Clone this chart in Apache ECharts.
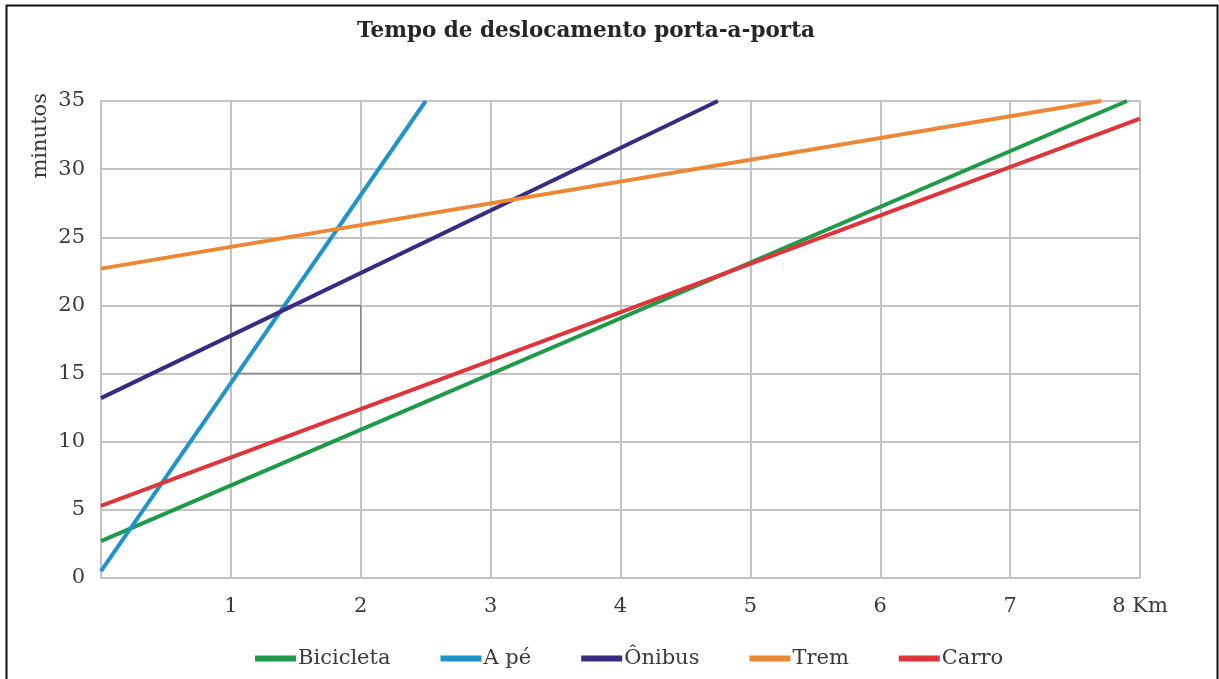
<!DOCTYPE html>
<html>
<head>
    <meta charset="utf-8">
    <title>Tempo de deslocamento porta-a-porta</title>
    <script src="https://cdn.jsdelivr.net/npm/echarts@6/dist/echarts.min.js"></script>
    <style>
        body { margin: 0; background: #fff; }
        #main { width: 1219px; height: 679px; }
    </style>
</head>
<body>
    <div id="main"></div>
    <script type="text/javascript">
        // endpoints of each straight line, [km, minutos]
        var bicicleta = [[0, 2.7], [7.9, 35]];
        var aPe = [[0, 0.5], [2.5, 35]];
        var onibus = [[0, 13.2], [4.75, 35]];
        var trem = [[0, 22.7], [7.7, 35]];
        var carro = [[0, 5.3], [8, 33.7]];

        var names = ['Bicicleta', 'A pé', 'Ônibus', 'Trem', 'Carro'];
        var colors = ['#1e9a48', '#2094c9', '#3a2a82', '#ee8733', '#e0343b'];
        var lines = [bicicleta, aPe, onibus, trem, carro];

        // the small highlighted box in the grid
        var caixa = [[1, 15], [2, 20]];

        var font = 'DejaVu Serif';
        var myChart = echarts.init(document.getElementById('main'));

        var series = lines.map(function (d, i) {
            return {
                name: names[i],
                type: 'line',
                data: d,
                symbol: 'none',
                lineStyle: { width: 4, color: colors[i] },
                itemStyle: { color: colors[i] },
                z: 3
            };
        });
        series[0].markArea = {
            silent: true,
            itemStyle: { color: 'rgba(0,0,0,0)', borderColor: '#8a8a8a', borderWidth: 1.5 },
            data: [[{ coord: caixa[0] }, { coord: caixa[1] }]]
        };

        var option = {
            animation: false,
            textStyle: { fontFamily: font },
            title: {
                text: 'Tempo de deslocamento porta-a-porta',
                left: 581,
                top: 15,
                textAlign: 'center',
                textStyle: { fontFamily: font, fontSize: 21.5, fontWeight: 'bold', color: '#262626' }
            },
            grid: { left: 101, right: 79, top: 101, bottom: 101 },
            legend: {
                bottom: 10,
                left: 255,
                padding: 0,
                icon: 'rect',
                itemWidth: 41,
                itemHeight: 6,
                itemGap: 50,
                textStyle: { fontFamily: font, fontSize: 21, color: '#3a3a3a', padding: [0, 0, 0, -3] },
                data: names
            },
            graphic: [{
                type: 'rect',
                shape: { x: 6.5, y: 5.5, width: 1211, height: 700 },
                style: { fill: 'none', stroke: '#111', lineWidth: 2 },
                silent: true
            }],
            xAxis: {
                type: 'value',
                min: 0,
                max: 8,
                interval: 1,
                axisLine: { show: false },
                axisTick: { show: false },
                splitLine: { lineStyle: { color: '#c3c3c3', width: 2 } },
                axisLabel: {
                    margin: 18,
                    fontSize: 21,
                    color: '#3a3a3a',
                    formatter: function (v) { return v === 0 ? '' : (v === 8 ? '8 Km' : v); }
                }
            },
            yAxis: {
                type: 'value',
                name: 'minutos',
                nameLocation: 'end',
                nameRotate: 90,
                nameGap: 8,
                nameTextStyle: { fontFamily: font, fontSize: 21, color: '#3a3a3a', align: 'right', verticalAlign: 'bottom', padding: [0, 0, 50, 0] },
                min: 0,
                max: 35,
                interval: 5,
                axisLine: { show: true, lineStyle: { color: '#c3c3c3', width: 2 } },
                axisTick: { show: false },
                splitLine: { lineStyle: { color: '#c3c3c3', width: 2 } },
                axisLabel: { margin: 16, fontSize: 21, color: '#3a3a3a' }
            },
            series: series
        };

        myChart.setOption(option);
    </script>
</body>
</html>
